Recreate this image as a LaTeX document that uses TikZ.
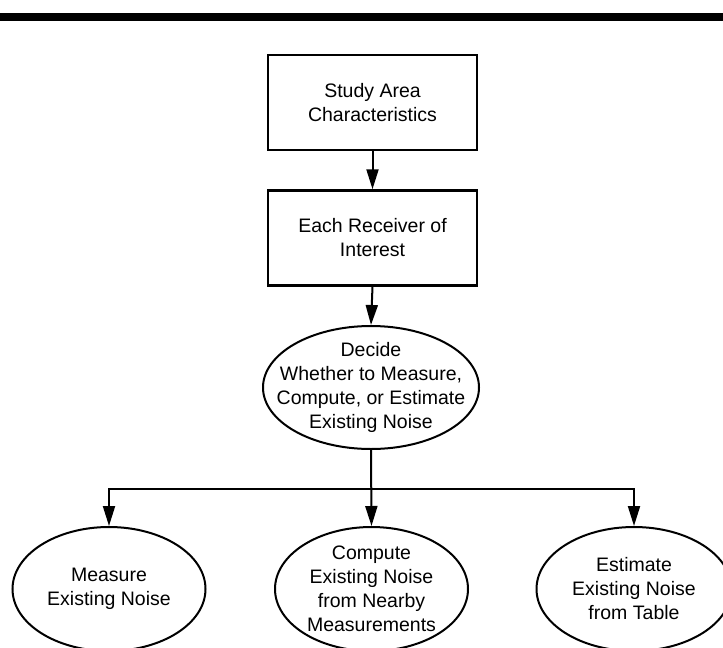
\documentclass[tikz,border=0pt]{standalone}
\usepackage{fontspec}
\setmainfont{Liberation Sans}
\usetikzlibrary{shapes.geometric,arrows.meta}
\begin{document}
\begin{tikzpicture}[x=1pt,y=-1pt,
  font=\fontsize{19.5}{24}\selectfont,
  boxnode/.style={draw,line width=2.5pt,minimum width=209pt,minimum height=95pt,align=center,inner sep=0pt},
  ovalnode/.style={draw,ellipse,line width=2pt,inner sep=0pt},
  ovaltext/.style={align=center,inner sep=0pt},
  conn/.style={line width=2pt,line join=miter,-{Triangle[length=20pt,width=12pt]}},
]
\useasboundingbox (0,0) rectangle (723,648);
\clip (0,0) rectangle (723,648);
\fill (0,13) rectangle (723,21);

\node[boxnode] (b1) at (372.5,102.5) {Study Area\\Characteristics};
\node[boxnode] (b2) at (372.5,238) {Each Receiver of\\Interest};
\node[ovalnode,minimum width=216pt,minimum height=123pt,
  label={[ovaltext]center:Decide\\Whether to Measure,\\Compute, or Estimate\\Existing Noise}] (d) at (371,387.5) {};

\node[ovalnode,minimum width=193pt,minimum height=124pt,
  label={[ovaltext]center:Measure\\Existing Noise}] (l) at (109,589) {};
\node[ovalnode,minimum width=193pt,minimum height=124pt,
  label={[ovaltext]center:Compute\\Existing Noise\\from Nearby\\Measurements}] (m) at (371.5,589) {};
\node[ovalnode,minimum width=195pt,minimum height=124pt,
  label={[ovaltext]center:Estimate\\Existing Noise\\from Table}] (r) at (634,589) {};

\coordinate (j) at (371.5,489);
\draw[conn] (b1.south) -- (b2.north);
\draw[conn] (b2.south) -- (d.north);
\draw[conn] (d.south) -- (m.north);
\draw[conn] (j) -| (l.north);
\draw[conn] (j) -| (r.north);
\end{tikzpicture}
\end{document}
